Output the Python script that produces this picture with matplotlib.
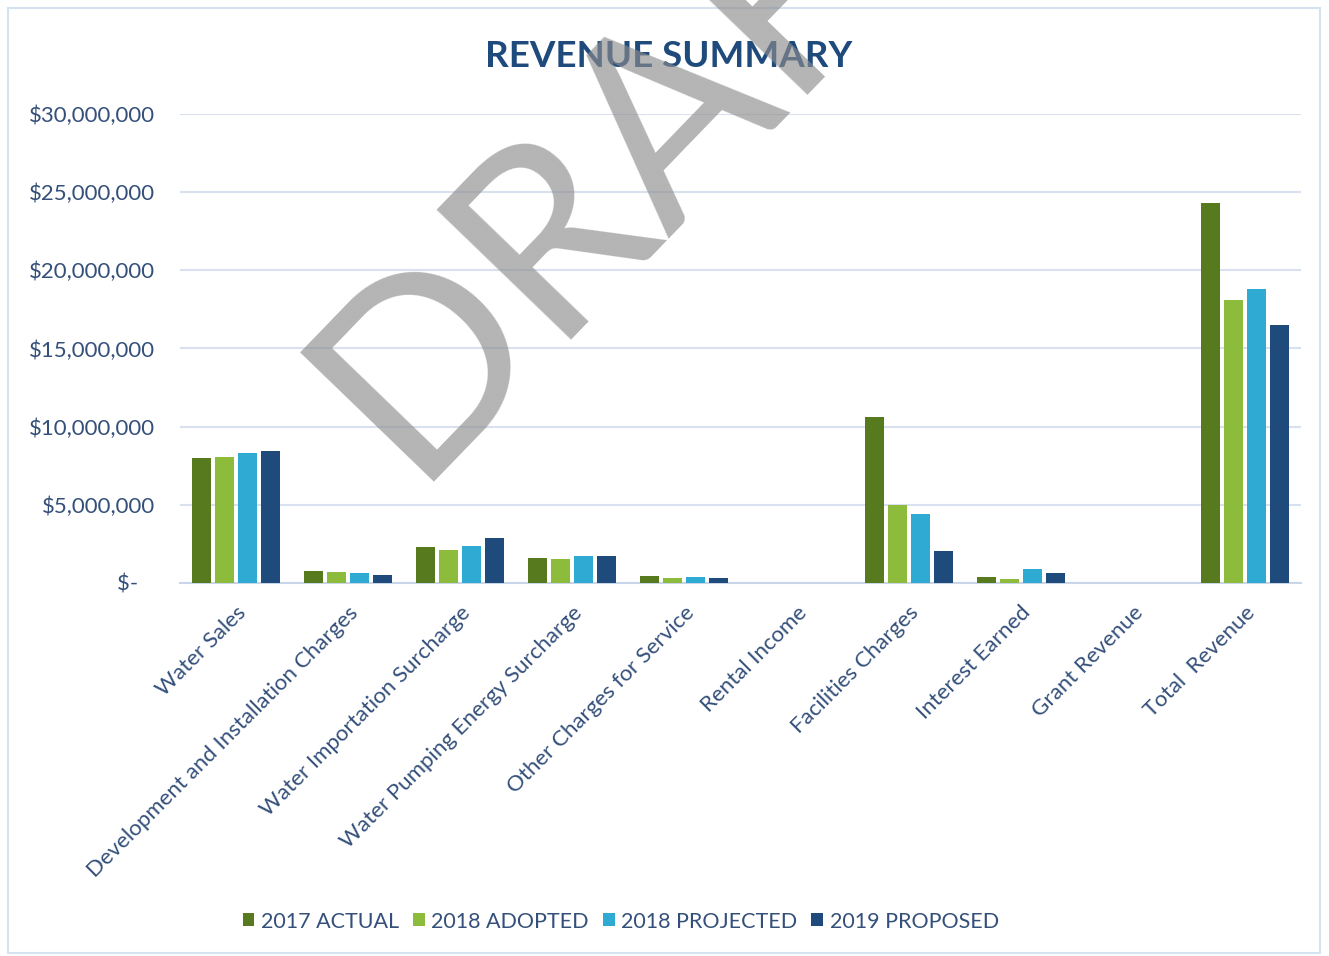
import numpy as np
import matplotlib.pyplot as plt
from matplotlib.patches import Rectangle
from matplotlib.ticker import FuncFormatter

plt.rcParams['font.family'] = ['Lato', 'DejaVu Sans']

categories = ['Water Sales', 'Development and Installation Charges',
              'Water Importation Surcharge', 'Water Pumping Energy Surcharge',
              'Other Charges for Service', 'Rental Income', 'Facilities Charges',
              'Interest Earned', 'Grant Revenue', 'Total  Revenue']
series_names = ['2017 ACTUAL', '2018 ADOPTED', '2018 PROJECTED', '2019 PROPOSED']

# values in dollars
actual_2017 = [7980000, 790000, 2280000, 1620000, 470000, 0, 10620000, 400000, 0, 24290000]
adopted_2018 = [8080000, 700000, 2110000, 1540000, 320000, 0, 4970000, 260000, 0, 18100000]
projected_2018 = [8340000, 640000, 2370000, 1710000, 400000, 0, 4410000, 900000, 0, 18790000]
proposed_2019 = [8420000, 490000, 2860000, 1710000, 300000, 0, 2050000, 620000, 0, 16500000]

colors = ['#587a1f', '#8dbb3c', '#2fabd3', '#1f4a7c']
text_col = '#34507a'

fig = plt.figure(figsize=(13.29, 9.56), dpi=100)
fig.patches.append(Rectangle((8 / 1329, 3 / 956), 1312 / 1329, 945 / 956,
                             transform=fig.transFigure, fill=False,
                             edgecolor='#d5e2f0', linewidth=1.5))

ax = fig.add_axes([0.1354, 0.3902, 0.8435, 0.4906])

x = np.arange(len(categories))
step = 0.205
width = 0.17
data = [actual_2017, adopted_2018, projected_2018, proposed_2019]
for i, (vals, name, c) in enumerate(zip(data, series_names, colors)):
    ax.bar(x + (i - 1.5) * step, vals, width=width, color=c, label=name, zorder=3)

ax.set_xlim(-0.5, len(categories) - 0.5)
ax.set_ylim(0, 30000000)
ax.set_yticks(np.arange(0, 30000001, 5000000))
ax.yaxis.set_major_formatter(FuncFormatter(
    lambda v, p: '$-   ' if v == 0 else '${:,.0f}'.format(v)))
ax.yaxis.grid(True, color='#d9e1f0', linewidth=1.5, zorder=0)
ax.tick_params(axis='y', length=0, pad=18, labelsize=16, labelcolor=text_col)
ax.tick_params(axis='x', length=0, pad=14)
ax.set_xticks(x)
ax.set_xticklabels(categories, rotation=45, ha='right', rotation_mode='anchor',
                   fontsize=16, color=text_col)
for s in ['top', 'right', 'left']:
    ax.spines[s].set_visible(False)
ax.spines['bottom'].set_color('#c9d6ea')
ax.spines['bottom'].set_linewidth(1.5)

fig.text(0.503, 0.941, 'REVENUE SUMMARY', ha='center', va='center',
         fontsize=26.5, fontweight='bold', color='#1f4a7c')

fig.legend(loc='center', bbox_to_anchor=(0.467, 0.036), ncol=4, frameon=False,
           fontsize=15.5, handlelength=0.55, handleheight=0.55, handletextpad=0.3,
           columnspacing=0.65, labelcolor=text_col)

# watermark
fig.text(410 / 1329, 1 - 482 / 956, 'DRAFT', rotation=46, rotation_mode='anchor',
         ha='left', va='baseline', fontsize=188, color='#8c8c8c', alpha=0.65,
         zorder=10)

plt.savefig('out.png', dpi=100)
